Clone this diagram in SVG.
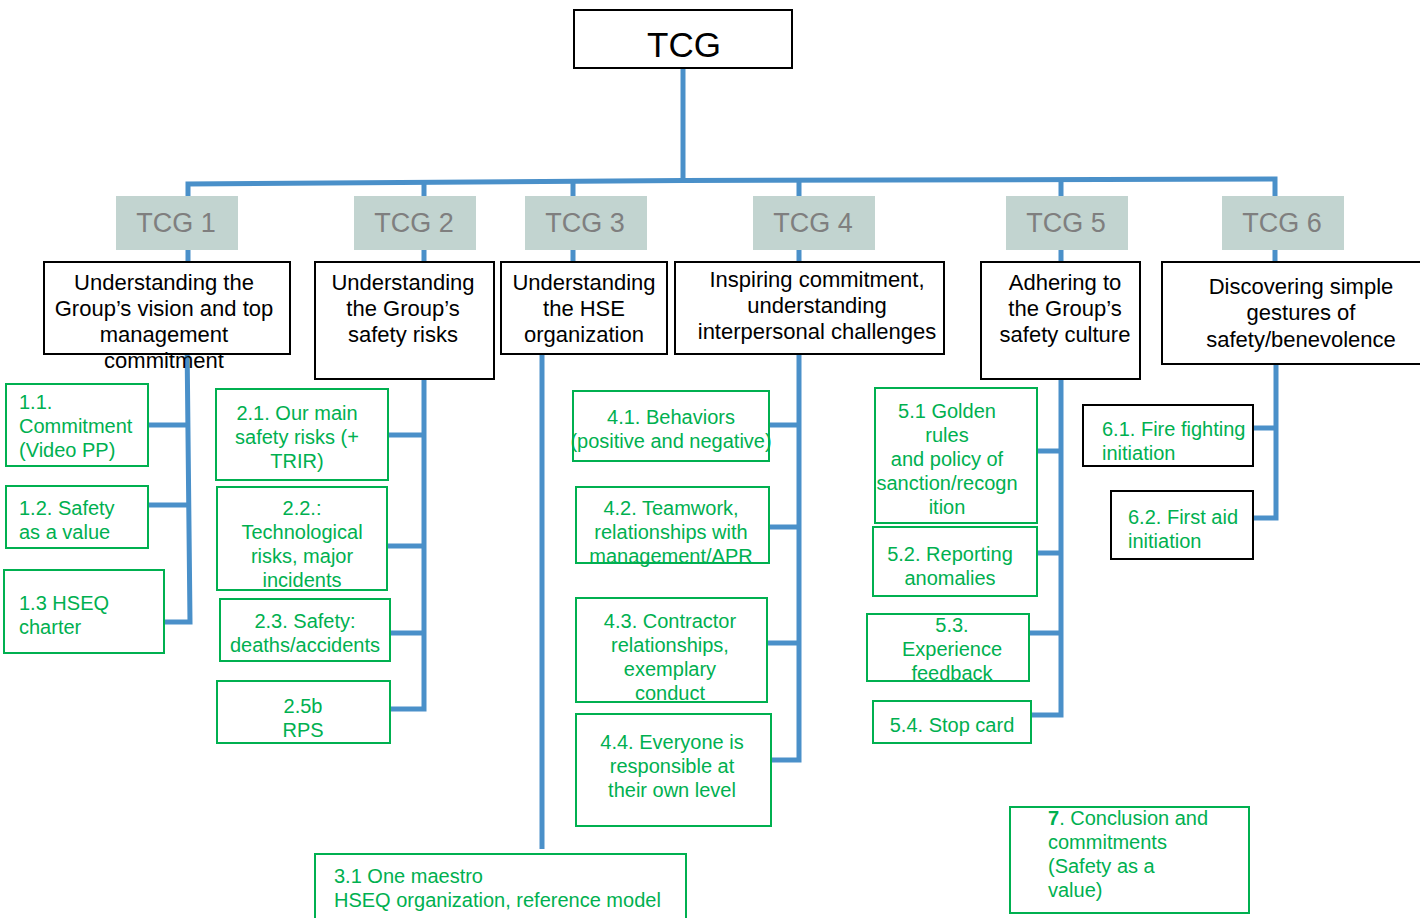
<svg xmlns="http://www.w3.org/2000/svg" width="1420" height="918" viewBox="0 0 1420 918">
  <style>
    .root { fill: #fff; stroke: #000; stroke-width: 2; }
    .tab { fill: #c2d4d0; }
    .tabtxt { font-family: "Liberation Sans", Arial, sans-serif; font-size: 27px; fill: #7f7f7f; text-anchor: middle; }
    .head { fill: #fff; stroke: #000; stroke-width: 2; }
    .headtxt { font-family: "Liberation Sans", Arial, sans-serif; font-size: 22px; fill: #000; text-anchor: middle; }
    .item { fill: #fff; stroke: #00b050; stroke-width: 2; }
    .itemk { fill: #fff; stroke: #000; stroke-width: 2; }
    .txt { font-family: "Liberation Sans", Arial, sans-serif; font-size: 20px; fill: #00b050; }
    .c { text-anchor: middle; }
    .wire { fill: none; stroke: #4a90c9; stroke-width: 5; stroke-linejoin: miter; }
  </style>

  <!-- connectors -->
  <g id="connectors" class="wire">
    <path d="M683 68 V181"/>
    <path d="M188 196 V184 L683 180.5 L1275 179 V197"/>
    <path d="M424 182.5 V196 M573 181.5 V196 M799 180 V196 M1061 179.5 V196"/>
    <path d="M188 250 V262 M424 250 V262 M573 250 V262 M799 250 V262 M1061 250 V262 M1275 250 V262"/>
    <!-- TCG 1 branch -->
    <path d="M187 340 L190 622 H164 M148 425 H188 M148 505 H189"/>
    <!-- TCG 2 branch -->
    <path d="M424 379 V709 H390 M388 435 H424 M387 546 H424 M390 633 H424"/>
    <!-- TCG 3 branch -->
    <path d="M542 354 V849"/>
    <!-- TCG 4 branch -->
    <path d="M799 354 V760 H771 M769 425 H799 M769 527 H799 M767 643 H799"/>
    <!-- TCG 5 branch -->
    <path d="M1061 379 V715 H1031 M1037 451 H1061 M1037 553 H1061 M1029 633 H1061"/>
    <!-- TCG 6 branch -->
    <path d="M1276 364 V518 H1253 M1253 428 H1276"/>
  </g>

  <g id="tcg">
    <rect class="root" x="574" y="10" width="218" height="58"/>
    <text x="684" y="57" font-family="Liberation Sans, Arial, sans-serif" font-size="35" text-anchor="middle">TCG</text>
  </g>

  <!-- section tabs -->
  <g id="tab1"><rect class="tab" x="116" y="196" width="122" height="54"/><text class="tabtxt" x="176" y="232">TCG 1</text></g>
  <g id="tab2"><rect class="tab" x="354" y="196" width="122" height="54"/><text class="tabtxt" x="414" y="232">TCG 2</text></g>
  <g id="tab3"><rect class="tab" x="525" y="196" width="122" height="54"/><text class="tabtxt" x="585" y="232">TCG 3</text></g>
  <g id="tab4"><rect class="tab" x="753" y="196" width="122" height="54"/><text class="tabtxt" x="813" y="232">TCG 4</text></g>
  <g id="tab5"><rect class="tab" x="1006" y="196" width="122" height="54"/><text class="tabtxt" x="1066" y="232">TCG 5</text></g>
  <g id="tab6"><rect class="tab" x="1222" y="196" width="122" height="54"/><text class="tabtxt" x="1282" y="232">TCG 6</text></g>

  <!-- section headings -->
  <g id="head1">
    <rect class="head" x="44" y="262" width="246" height="92"/>
    <text class="headtxt"><tspan x="164" y="290">Understanding the</tspan><tspan x="164" y="316">Group’s vision and top</tspan><tspan x="164" y="342">management</tspan><tspan x="164" y="368">commitment</tspan></text>
  </g>
  <g id="head2">
    <rect class="head" x="315" y="262" width="179" height="117"/>
    <text class="headtxt"><tspan x="403" y="290">Understanding</tspan><tspan x="403" y="316">the Group’s</tspan><tspan x="403" y="342">safety risks</tspan></text>
  </g>
  <g id="head3">
    <rect class="head" x="501" y="262" width="166" height="92"/>
    <text class="headtxt"><tspan x="584" y="290">Understanding</tspan><tspan x="584" y="316">the HSE</tspan><tspan x="584" y="342">organization</tspan></text>
  </g>
  <g id="head4">
    <rect class="head" x="675" y="262" width="269" height="92"/>
    <text class="headtxt"><tspan x="817" y="287">Inspiring commitment,</tspan><tspan x="817" y="313">understanding</tspan><tspan x="817" y="339">interpersonal challenges</tspan></text>
  </g>
  <g id="head5">
    <rect class="head" x="981" y="262" width="159" height="117"/>
    <text class="headtxt"><tspan x="1065" y="290">Adhering to</tspan><tspan x="1065" y="316">the Group’s</tspan><tspan x="1065" y="342">safety culture</tspan></text>
  </g>
  <g id="head6">
    <rect class="head" x="1162" y="262" width="262" height="102"/>
    <text class="headtxt"><tspan x="1301" y="294">Discovering simple</tspan><tspan x="1301" y="320">gestures of</tspan><tspan x="1301" y="347">safety/benevolence</tspan></text>
  </g>

  <!-- TCG 1 items -->
  <g id="n1-1"><rect class="item" x="6" y="384" width="142" height="82"/>
    <text class="txt"><tspan x="19" y="409">1.1.</tspan><tspan x="19" y="433">Commitment</tspan><tspan x="19" y="457">(Video PP)</tspan></text></g>
  <g id="n1-2"><rect class="item" x="6" y="486" width="142" height="62"/>
    <text class="txt"><tspan x="19" y="515">1.2. Safety</tspan><tspan x="19" y="539">as a value</tspan></text></g>
  <g id="n1-3"><rect class="item" x="4" y="570" width="160" height="83"/>
    <text class="txt"><tspan x="19" y="610">1.3 HSEQ</tspan><tspan x="19" y="634">charter</tspan></text></g>

  <!-- TCG 2 items -->
  <g id="n2-1"><rect class="item" x="216" y="389" width="172" height="91"/>
    <text class="txt c"><tspan x="297" y="420">2.1. Our main</tspan><tspan x="297" y="444">safety risks (+</tspan><tspan x="297" y="468">TRIR)</tspan></text></g>
  <g id="n2-2"><rect class="item" x="217" y="487" width="170" height="103"/>
    <text class="txt c"><tspan x="302" y="515">2.2.:</tspan><tspan x="302" y="539">Technological</tspan><tspan x="302" y="563">risks, major</tspan><tspan x="302" y="587">incidents</tspan></text></g>
  <g id="n2-3"><rect class="item" x="220" y="599" width="170" height="62"/>
    <text class="txt c"><tspan x="305" y="628">2.3. Safety:</tspan><tspan x="305" y="652">deaths/accidents</tspan></text></g>
  <g id="n2-5b"><rect class="item" x="217" y="681" width="173" height="62"/>
    <text class="txt c"><tspan x="303" y="713">2.5b</tspan><tspan x="303" y="737">RPS</tspan></text></g>

  <!-- TCG 3 item -->
  <g id="n3-1"><rect class="item" x="315" y="854" width="371" height="70"/>
    <text class="txt"><tspan x="334" y="883">3.1 One maestro</tspan><tspan x="334" y="907">HSEQ organization, reference model</tspan></text></g>

  <!-- TCG 4 items -->
  <g id="n4-1"><rect class="item" x="573" y="391" width="196" height="70"/>
    <text class="txt c"><tspan x="671" y="424">4.1. Behaviors</tspan><tspan x="671" y="448">(positive and negative)</tspan></text></g>
  <g id="n4-2"><rect class="item" x="576" y="487" width="193" height="76"/>
    <text class="txt c"><tspan x="671" y="515">4.2. Teamwork,</tspan><tspan x="671" y="539">relationships with</tspan><tspan x="671" y="563">management/APR</tspan></text></g>
  <g id="n4-3"><rect class="item" x="576" y="598" width="191" height="104"/>
    <text class="txt c"><tspan x="670" y="628">4.3. Contractor</tspan><tspan x="670" y="652">relationships,</tspan><tspan x="670" y="676">exemplary</tspan><tspan x="670" y="700">conduct</tspan></text></g>
  <g id="n4-4"><rect class="item" x="576" y="714" width="195" height="112"/>
    <text class="txt c"><tspan x="672" y="749">4.4. Everyone is</tspan><tspan x="672" y="773">responsible at</tspan><tspan x="672" y="797">their own level</tspan></text></g>

  <!-- TCG 5 items -->
  <g id="n5-1"><rect class="item" x="875" y="388" width="162" height="135"/>
    <text class="txt c"><tspan x="947" y="418">5.1 Golden</tspan><tspan x="947" y="442">rules</tspan><tspan x="947" y="466">and policy of</tspan><tspan x="947" y="490">sanction/recogn</tspan><tspan x="947" y="514">ition</tspan></text></g>
  <g id="n5-2"><rect class="item" x="873" y="527" width="164" height="69"/>
    <text class="txt c"><tspan x="950" y="561">5.2. Reporting</tspan><tspan x="950" y="585">anomalies</tspan></text></g>
  <g id="n5-3"><rect class="item" x="867" y="614" width="162" height="67"/>
    <text class="txt c"><tspan x="952" y="632">5.3.</tspan><tspan x="952" y="656">Experience</tspan><tspan x="952" y="680">feedback</tspan></text></g>
  <g id="n5-4"><rect class="item" x="873" y="701" width="158" height="42"/>
    <text class="txt c"><tspan x="952" y="732">5.4. Stop card</tspan></text></g>

  <!-- TCG 6 items -->
  <g id="n6-1"><rect class="itemk" x="1083" y="405" width="170" height="61"/>
    <text class="txt"><tspan x="1102" y="436">6.1. Fire fighting</tspan><tspan x="1102" y="460">initiation</tspan></text></g>
  <g id="n6-2"><rect class="itemk" x="1111" y="491" width="142" height="68"/>
    <text class="txt"><tspan x="1128" y="524">6.2. First aid</tspan><tspan x="1128" y="548">initiation</tspan></text></g>

  <!-- closing module -->
  <g id="n7"><rect class="item" x="1010" y="807" width="239" height="106"/>
    <text class="txt"><tspan x="1048" y="825"><tspan font-weight="bold">7</tspan>. Conclusion and</tspan><tspan x="1048" y="849">commitments</tspan><tspan x="1048" y="873">(Safety as a</tspan><tspan x="1048" y="897">value)</tspan></text></g>
</svg>
